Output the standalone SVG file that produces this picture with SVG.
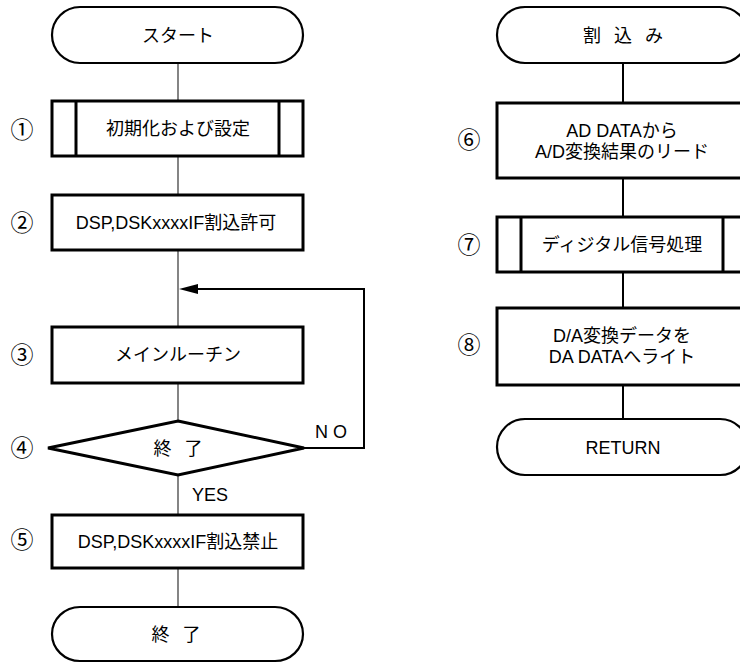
<svg xmlns="http://www.w3.org/2000/svg" width="740" height="663" viewBox="0 0 740 663">
<style>
.t{font-family:"Liberation Sans","Noto Sans CJK JP",sans-serif;font-size:18px;fill:#000;text-anchor:middle}
.n{font-family:"Noto Sans CJK JP","DejaVu Sans",sans-serif;font-size:23px;fill:#000;text-anchor:middle}
.box{fill:#fff;stroke:#000;stroke-width:3}
.term{fill:#fff;stroke:#000;stroke-width:2.2}
.thin{stroke:#333;stroke-width:1.2;fill:none}
.thick{stroke:#000;stroke-width:2;fill:none}
</style>
<rect width="740" height="663" fill="#fff"/>
<g id="connectors">
<line class="thin" x1="178" y1="63" x2="178" y2="101"/>
<line class="thin" x1="178" y1="156" x2="178" y2="195"/>
<line class="thin" x1="178" y1="250" x2="178" y2="327"/>
<line class="thin" x1="178" y1="383" x2="178" y2="421"/>
<line class="thin" x1="178" y1="474" x2="178" y2="515"/>
<line class="thin" x1="178" y1="568" x2="178" y2="607"/>
<polyline class="thick" points="304,448 364,448 364,289 196,289"/>
<polygon points="179,289 198,284 198,294" fill="#000"/>
<line class="thick" x1="623" y1="63" x2="623" y2="103"/>
<line class="thick" x1="623" y1="178" x2="623" y2="217"/>
<line class="thick" x1="623" y1="272" x2="623" y2="308"/>
<line class="thick" x1="623" y1="385" x2="623" y2="419"/>
<text class="t" x="331" y="438" font-size="17">N O</text>
<text class="t" x="210" y="501">YES</text>
</g>
<g id="start">
<rect class="term" x="52" y="7" width="251" height="56" rx="28" ry="28"/>
<text class="t" x="178" y="42">スタート</text>
</g>
<g id="n1">
<rect class="box" x="52" y="101" width="251" height="55"/>
<line class="box" x1="76" y1="101" x2="76" y2="156" stroke-width="2"/>
<line class="box" x1="279" y1="101" x2="279" y2="156" stroke-width="2"/>
<text class="t" x="178" y="135">初期化および設定</text>
<text class="n" x="22" y="138">①</text>
</g>
<g id="n2">
<rect class="box" x="52" y="195" width="251" height="55"/>
<text class="t" x="176" y="229">DSP,DSKxxxxIF割込許可</text>
<text class="n" x="22" y="231">②</text>
</g>
<g id="n3">
<rect class="box" x="52" y="327" width="251" height="56"/>
<text class="t" x="178" y="361">メインルーチン</text>
<text class="n" x="22" y="363">③</text>
</g>
<g id="n4">
<polygon class="box" points="178,421 304,448 178,475 48,448"/>
<text class="t" x="178" y="455" word-spacing="8">終 了</text>
<text class="n" x="22" y="456">④</text>
</g>
<g id="n5">
<rect class="box" x="52" y="515" width="251" height="53"/>
<text class="t" x="178" y="548">DSP,DSKxxxxIF割込禁止</text>
<text class="n" x="22" y="548">⑤</text>
</g>
<g id="end">
<rect class="term" x="52" y="607" width="251" height="54" rx="28" ry="27"/>
<text class="t" x="176" y="641" word-spacing="8">終 了</text>
</g>
<g id="interrupt">
<rect class="term" x="497" y="7" width="251" height="56" rx="28" ry="28"/>
<text class="t" x="623" y="42" word-spacing="8">割 込 み</text>
</g>
<g id="n6">
<rect class="box" x="497" y="103" width="251" height="75"/>
<text class="t" x="622" y="137">AD DATAから</text>
<text class="t" x="622" y="158">A/D変換結果のリード</text>
<text class="n" x="469" y="148">⑥</text>
</g>
<g id="n7">
<rect class="box" x="497" y="217" width="251" height="55"/>
<line class="box" x1="521" y1="217" x2="521" y2="272" stroke-width="2"/>
<line class="box" x1="723" y1="217" x2="723" y2="272" stroke-width="2"/>
<text class="t" x="622" y="251">ディジタル信号処理</text>
<text class="n" x="469" y="253">⑦</text>
</g>
<g id="n8">
<rect class="box" x="497" y="308" width="251" height="77"/>
<text class="t" x="622" y="342">D/A変換データを</text>
<text class="t" x="622" y="363">DA DATAへライト</text>
<text class="n" x="469" y="353">⑧</text>
</g>
<g id="return">
<rect class="term" x="497" y="419" width="251" height="56" rx="28" ry="28"/>
<text class="t" x="623" y="454">RETURN</text>
</g>
</svg>
